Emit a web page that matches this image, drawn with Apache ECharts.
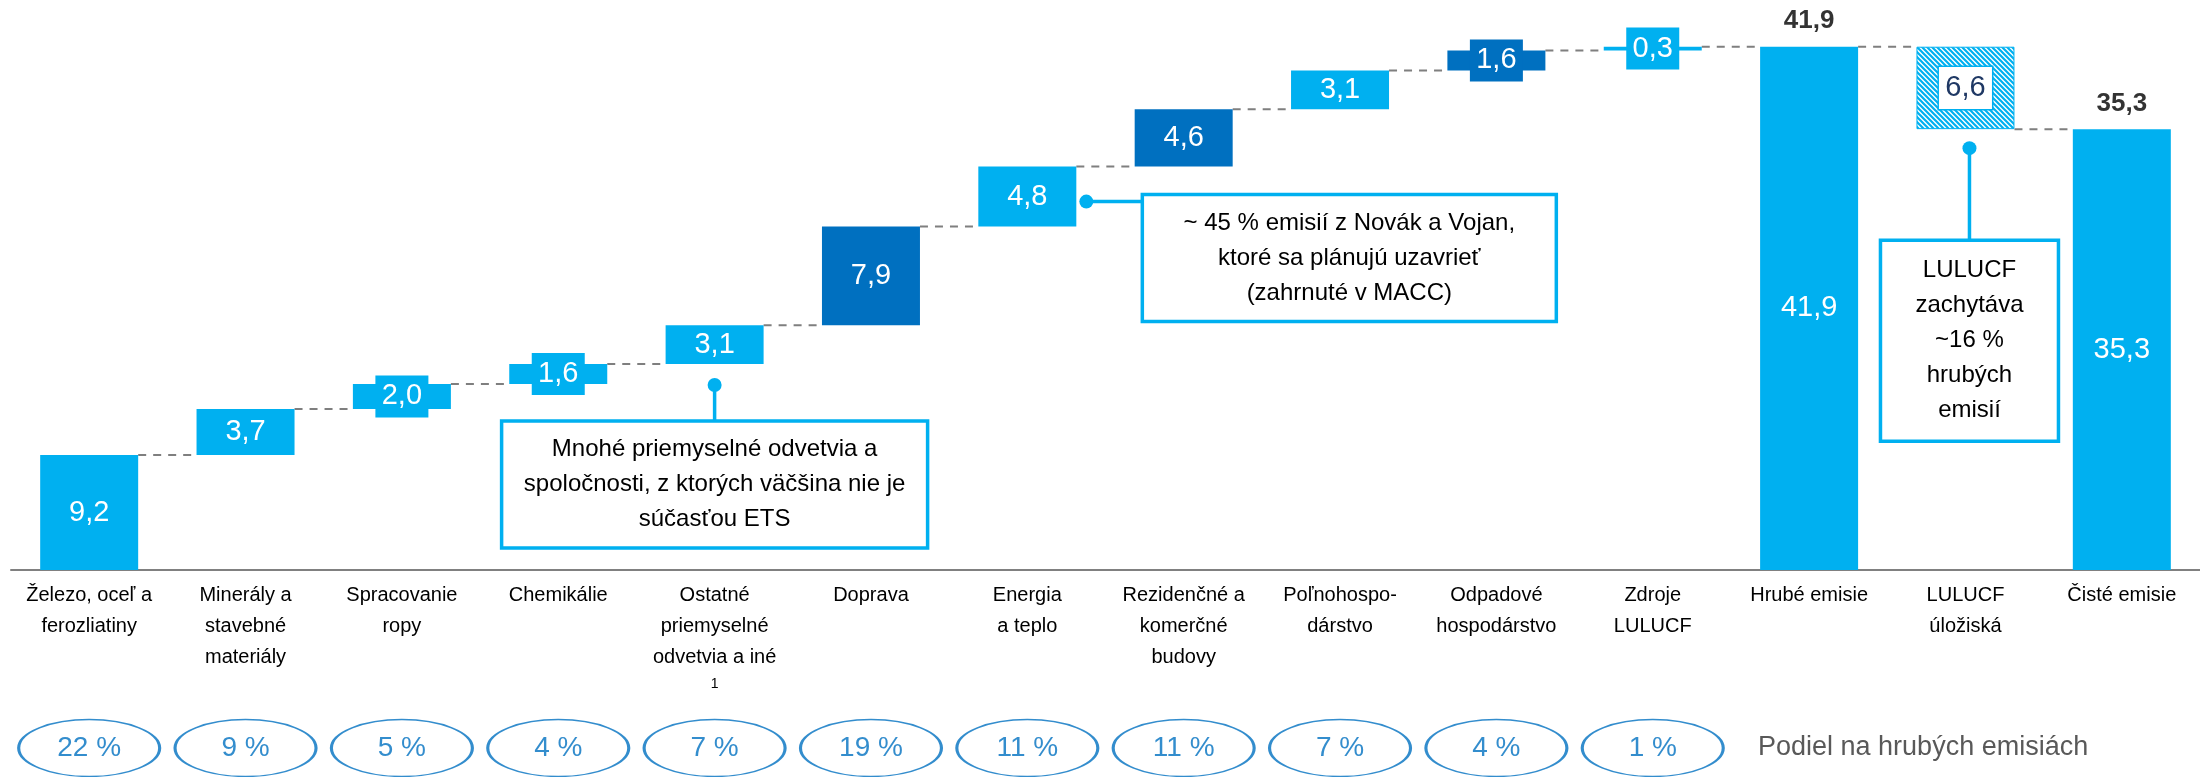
<!DOCTYPE html>
<html lang="sk">
<head>
    <meta charset="UTF-8">
    <title>Emisie podľa sektorov</title>
    <script src="https://cdn.jsdelivr.net/npm/echarts@6/dist/echarts.min.js"></script>
    <style>
        html, body {
            margin: 0;
            padding: 0;
            background: #fff;
        }
        #chart {
            width: 2200px;
            height: 777px;
        }
    </style>
</head>
<body>
<div id="chart"></div>
<script>
    // data
    var categories = [
        'Železo, oceľ a\nferozliatiny',
        'Minerály a\nstavebné\nmateriály',
        'Spracovanie\nropy',
        'Chemikálie',
        'Ostatné\npriemyselné\nodvetvia a iné',
        'Doprava',
        'Energia\na teplo',
        'Rezidenčné a\nkomerčné\nbudovy',
        'Poľnohospo-\ndárstvo',
        'Odpadové\nhospodárstvo',
        'Zdroje\nLULUCF',
        'Hrubé emisie',
        'LULUCF\núložiská',
        'Čisté emisie'
    ];
    var values = [9.2, 3.7, 2.0, 1.6, 3.1, 7.9, 4.8, 4.6, 3.1, 1.6, 0.3, 41.9, -6.6, 35.3];
    var totalFlags = [false, false, false, false, false, false, false, false, false, false, false, true, false, true];
    var shares = [22, 9, 5, 4, 7, 19, 11, 11, 7, 4, 1];
    var footnotes = ['', '', '', '', '1', '', '', '', '', '', '', '', '', ''];
    var darkCategories = ['Doprava', 'Rezidenčné a\nkomerčné\nbudovy', 'Odpadové\nhospodárstvo'];

    var noteIndustry = 'Mnohé priemyselné odvetvia a\nspoločnosti, z ktorých väčšina nie je\nsúčasťou ETS';
    var noteEnergy = '~ 45 % emisií z Novák a Vojan,\nktoré sa plánujú uzavrieť\n(zahrnuté v MACC)';
    var noteLulucf = 'LULUCF\nzachytáva\n~16 %\nhrubých\nemisií';
    var shareTitle = 'Podiel na hrubých emisiách';

    var LIGHT = '#00B0F0', DARK = '#0070C0', NAVY = '#1F3864';
    var FONT = '"Liberation Sans", Arial, sans-serif';
    var BAR_W = 98;

    function fmt(v) {
        return Math.abs(v).toFixed(1).replace('.', ',');
    }

    // waterfall: invisible base + visible piece, running level after each bar
    var bases = [], heights = [], levels = [];
    var run = 0;
    values.forEach(function (v, i) {
        if (totalFlags[i]) {
            bases.push(0); heights.push(v); run = v;
        } else if (v >= 0) {
            bases.push(run); heights.push(v); run += v;
        } else {
            run += v; bases.push(run); heights.push(-v);
        }
        levels.push(Math.round(run * 10) / 10);
    });

    function hatch() {
        var c = document.createElement('canvas');
        c.width = 5;
        c.height = 5;
        var ctx = c.getContext('2d');
        ctx.fillStyle = '#fff';
        ctx.fillRect(0, 0, 5, 5);
        ctx.strokeStyle = LIGHT;
        ctx.lineWidth = 2.2;
        ctx.beginPath();
        ctx.moveTo(-3, -3); ctx.lineTo(8, 8);
        ctx.moveTo(-8, -3); ctx.lineTo(3, 8);
        ctx.moveTo(2, -3); ctx.lineTo(13, 8);
        ctx.stroke();
        return c;
    }
    var hatchImg = hatch();

    var barData = heights.map(function (h, i) {
        var col = darkCategories.indexOf(categories[i]) >= 0 ? DARK : LIGHT;
        if (values[i] < 0) {
            return {
                value: h,
                itemStyle: {color: {image: hatchImg, repeat: 'repeat'}, borderColor: LIGHT, borderWidth: 1},
                label: {backgroundColor: '#fff', borderColor: LIGHT, borderWidth: 1.5, color: NAVY}
            };
        }
        var item = {value: h, itemStyle: {color: col}};
        if (h < 3) {
            item.label = {backgroundColor: col};
        }
        return item;
    });

    var connectorData = [];
    for (var i = 0; i < values.length - 1; i++) {
        connectorData.push([i, levels[i]]);
    }

    var totalData = [];
    values.forEach(function (v, i) {
        if (totalFlags[i]) totalData.push([i, v]);
    });

    var shareData = shares.map(function (s, i) {
        return [i, 0.5, s];
    });

    var chart = echarts.init(document.getElementById('chart'));
    var option = {
        animation: false,
        grid: [
            {left: 11, width: 2191, top: 8, height: 562},
            {left: 11, width: 2191, top: 719, height: 58}
        ],
        xAxis: [
            {
                type: 'category', gridIndex: 0, data: categories,
                axisLine: {lineStyle: {color: '#808080', width: 2}},
                axisTick: {show: false},
                axisLabel: {
                    interval: 0, color: '#000', fontSize: 20, lineHeight: 31, margin: 10,
                    fontFamily: FONT,
                    formatter: function (v, idx) {
                        return footnotes[idx] ? v + '\n{sup|' + footnotes[idx] + '}' : v;
                    },
                    rich: {sup: {fontSize: 14, lineHeight: 22, color: '#000', fontFamily: FONT}}
                }
            },
            {type: 'category', gridIndex: 1, data: categories, show: false}
        ],
        yAxis: [
            {type: 'value', gridIndex: 0, min: 0, max: 45, show: false},
            {type: 'value', gridIndex: 1, min: 0, max: 1, show: false}
        ],
        series: [
            {
                name: 'base', type: 'bar', stack: 'w', barWidth: BAR_W, silent: true,
                itemStyle: {color: 'rgba(0,0,0,0)'},
                data: bases
            },
            {
                name: 'emisie', type: 'bar', stack: 'w', barWidth: BAR_W,
                label: {
                    show: true, position: 'inside', color: '#fff', fontSize: 29, fontFamily: FONT,
                    width: 53, height: 42, lineHeight: 42, align: 'center', verticalAlign: 'middle',
                    formatter: function (p) {
                        return fmt(values[p.dataIndex]);
                    }
                },
                data: barData
            },
            {
                name: 'spojnice', type: 'custom', silent: true,
                encode: {x: 0, y: 1},
                renderItem: function (params, api) {
                    var a = api.coord([api.value(0), api.value(1)]);
                    var b = api.coord([api.value(0) + 1, api.value(1)]);
                    return {
                        type: 'line',
                        shape: {x1: a[0] + BAR_W / 2, y1: a[1], x2: b[0] - BAR_W / 2, y2: b[1]},
                        style: {stroke: '#7f7f7f', lineWidth: 2, lineDash: [8, 7]}
                    };
                },
                data: connectorData
            },
            {
                name: 'spolu', type: 'scatter', symbolSize: 1, silent: true,
                itemStyle: {color: 'rgba(0,0,0,0)'},
                label: {
                    show: true, position: 'top', distance: 12, color: '#000',
                    fontSize: 26, fontWeight: 'bold', fontFamily: FONT,
                    formatter: function (p) {
                        return fmt(p.value[1]);
                    }
                },
                data: totalData
            },
            {
                name: 'podiel', type: 'scatter', xAxisIndex: 1, yAxisIndex: 1, silent: true,
                symbol: 'circle', symbolSize: [141, 57],
                itemStyle: {color: '#fff', borderColor: DARK, borderWidth: 2},
                label: {
                    show: true, position: 'inside', color: DARK, fontSize: 28, fontFamily: FONT,
                    formatter: function (p) {
                        return p.value[2] + ' %';
                    }
                },
                data: shareData
            }
        ]
    };
    chart.setOption(option);

    // annotations anchored to their bars
    function px(i, v) {
        return chart.convertToPixel({gridIndex: 0}, [i, v]);
    }

    function noteBox(cx, top, w, h, text) {
        return [
            {
                type: 'rect', z: 50,
                shape: {x: cx - w / 2, y: top, width: w, height: h},
                style: {fill: '#fff', stroke: LIGHT, lineWidth: 3.5}
            },
            {
                type: 'text', z: 51,
                style: {
                    text: text, x: cx, y: top + h / 2, fill: '#000',
                    fontSize: 24, lineHeight: 35, fontFamily: FONT,
                    textAlign: 'center', textVerticalAlign: 'middle'
                }
            }
        ];
    }

    function dot(x, y) {
        return {type: 'circle', z: 50, shape: {cx: x, cy: y, r: 7}, style: {fill: LIGHT}};
    }

    function stem(x1, y1, x2, y2) {
        return {type: 'line', z: 49, shape: {x1: x1, y1: y1, x2: x2, y2: y2}, style: {stroke: LIGHT, lineWidth: 3.5}};
    }

    var g = [];
    var a = px(4, bases[4]);
    g.push(stem(a[0], a[1] + 21, a[0], a[1] + 57), dot(a[0], a[1] + 21));
    g = g.concat(noteBox(a[0], a[1] + 57, 426, 127, noteIndustry));

    var b = px(6, bases[6] + heights[6] / 2);
    var bx = b[0] + BAR_W / 2 + 10, by = b[1] + 5;
    g.push(stem(bx, by, bx + 56, by), dot(bx, by));
    g = g.concat(noteBox(bx + 56 + 207, by - 7, 414, 127, noteEnergy));

    var c = px(12, bases[12]);
    var cx = c[0] + 4;
    g.push(stem(cx, c[1] + 19, cx, c[1] + 111), dot(cx, c[1] + 19));
    g = g.concat(noteBox(cx, c[1] + 111, 178, 201, noteLulucf));

    g.push({
        type: 'text', z: 50,
        style: {
            text: shareTitle, x: 1758, y: 748, fill: '#595959',
            fontSize: 27, fontFamily: FONT, textAlign: 'left', textVerticalAlign: 'middle'
        }
    });

    chart.setOption({graphic: {elements: g}});
</script>
</body>
</html>
